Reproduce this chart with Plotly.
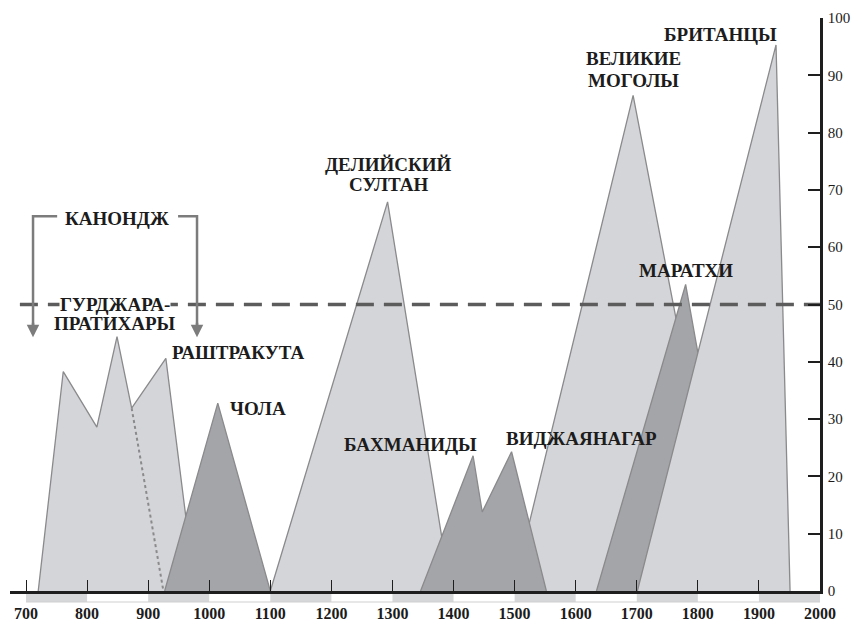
import plotly.graph_objects as go

# ---------------- data ----------------
x_tick_years = list(range(700, 2001, 100))
y_tick_values = list(range(0, 101, 10))

gurjara_x = [720, 761, 816, 849, 873, 929, 977]
gurjara_y = [0, 38.3, 28.6, 44.4, 31.9, 40.6, 0]
divider_x = [873, 925]
divider_y = [31.9, 0]
chola_x = [927, 1014, 1100]
chola_y = [0, 32.8, 0]
delhi_x = [1100, 1292, 1395]
delhi_y = [0, 67.9, 0]
mughal_x = [1497, 1694, 1850]
mughal_y = [0, 86.5, 0]
bahmani_x = [1346, 1432, 1447, 1495, 1552]
bahmani_y = [0, 23.6, 13.8, 24.3, 0]
maratha_x = [1634, 1780, 1870]
maratha_y = [0, 53.5, 0]
british_x = [1701, 1928, 1951]
british_y = [0, 95.3, 0]

threshold_value = 50
threshold_span = [690, 2000]

kanauj_left = 711.5
kanauj_right = 980
kanauj_top = 65.4
kanauj_tip = 44.3
kanauj_text_gap = [751, 949]

labels = [
    ("КАНОНДЖ", 849, 65.0),
    ("ГУРДЖАРА-", 845, 49.95),
    ("ПРАТИХАРЫ", 846, 46.6),
    ("РАШТРАКУТА", 1047, 41.7),
    ("ЧОЛА", 1080, 31.8),
    ("ДЕЛИЙСКИЙ", 1293, 74.5),
    ("СУЛТАН", 1294, 71.0),
    ("БАХМАНИДЫ", 1329, 25.6),
    ("ВИДЖАЯНАГАР", 1610, 26.6),
    ("ВЕЛИКИЕ", 1694, 92.9),
    ("МОГОЛЫ", 1694, 89.1),
    ("БРИТАНЦЫ", 1837, 97.2),
    ("МАРАТХИ", 1780, 55.9),
]

x_range = [673.8, 2000]

LIGHT = "#d4d5d8"
DARK = "#a4a5a9"
EDGE = "#8a8a8c"
TEXT = "#1c1c1c"
FONT = "Liberation Serif, Times New Roman, serif"

fig = go.Figure()


def region(xs, ys, fill):
    fig.add_trace(go.Scatter(
        x=xs, y=ys, mode="lines", fill="toself", fillcolor=fill,
        line=dict(color=EDGE, width=1.3), hoverinfo="skip", showlegend=False))


region(gurjara_x, gurjara_y, LIGHT)
fig.add_trace(go.Scatter(x=divider_x, y=divider_y, mode="lines",
                         line=dict(color=EDGE, width=2, dash="dot"),
                         hoverinfo="skip", showlegend=False))
region(chola_x, chola_y, DARK)
region(delhi_x, delhi_y, LIGHT)
region(mughal_x, mughal_y, LIGHT)
region(bahmani_x, bahmani_y, DARK)
region(maratha_x, maratha_y, DARK)
region(british_x, british_y, LIGHT)

# dashed 50 line
fig.add_trace(go.Scatter(x=threshold_span, y=[threshold_value] * 2, mode="lines",
                         line=dict(color="#5c5c5c", width=3.5, dash="18px,10px"),
                         hoverinfo="skip", showlegend=False))

# Kanauj bracket
BR = "#7c7c7c"
fig.add_trace(go.Scatter(
    x=[kanauj_text_gap[0], kanauj_left, kanauj_left],
    y=[kanauj_top, kanauj_top, kanauj_tip + 2],
    mode="lines", line=dict(color=BR, width=2.5), hoverinfo="skip", showlegend=False))
fig.add_trace(go.Scatter(
    x=[kanauj_text_gap[1], kanauj_right, kanauj_right],
    y=[kanauj_top, kanauj_top, kanauj_tip + 2],
    mode="lines", line=dict(color=BR, width=2.5), hoverinfo="skip", showlegend=False))

annotations = []
for xv in (kanauj_left, kanauj_right):
    annotations.append(dict(
        x=xv, y=kanauj_tip, xref="x", yref="y", ax=0, ay=-16,
        showarrow=True, arrowhead=2, arrowsize=1.0, arrowwidth=2.5,
        arrowcolor=BR, text=""))

for txt, xv, yv in labels:
    annotations.append(dict(
        x=xv, y=yv, xref="x", yref="y", text=txt, showarrow=False,
        font=dict(family=FONT, size=19, color=TEXT, weight="bold"),
        xanchor="center", yanchor="middle",
        bgcolor="rgba(255,255,255,0)" if not txt.startswith("ГУРДЖ") else "white",
        borderpad=0))

# alternating century strip under the baseline
shapes = []
for i, yr in enumerate(x_tick_years[:-1]):
    if i % 2 == 0:
        shapes.append(dict(type="rect", xref="x", yref="paper",
                           x0=yr, x1=yr + 100, y0=-11 / 573, y1=0,
                           fillcolor="#d6d7d9", line=dict(width=0), layer="below"))
shapes.append(dict(type="line", xref="x", yref="paper",
                   x0=x_tick_years[0], x1=x_tick_years[-1], y0=-11 / 573, y1=-11 / 573,
                   line=dict(color="#cfcfd1", width=1), layer="below"))

fig.update_layout(
    width=853, height=621,
    margin=dict(l=10, r=33, t=18, b=30, autoexpand=False),
    paper_bgcolor="white", plot_bgcolor="white",
    showlegend=False,
    annotations=annotations,
    shapes=shapes,
    font=dict(family=FONT, color=TEXT),
    xaxis=dict(
        range=x_range, showgrid=False, zeroline=False, automargin=False,
        showline=True, linecolor="#1e1e1e", linewidth=2.5,
        tickvals=x_tick_years, ticktext=[str(v) for v in x_tick_years],
        ticks="inside", ticklen=11, tickwidth=1.3, tickcolor="#1e1e1e",
        tickfont=dict(family=FONT, size=16, color=TEXT, weight="bold"),
        ticklabelstandoff=6,
    ),
    yaxis=dict(
        range=[0, 100], side="right", showgrid=False, zeroline=False, automargin=False,
        showline=True, linecolor="#1e1e1e", linewidth=2.5,
        tickvals=y_tick_values, ticktext=[str(v) for v in y_tick_values],
        ticks="inside", ticklen=12, tickwidth=1.5, tickcolor="#1e1e1e",
        tickfont=dict(family=FONT, size=15, color=TEXT),
        ticklabelstandoff=2,
    ),
)

page_fix = (
    "document.body.style.margin='0px';"
    "document.documentElement.style.overflow='hidden';"
    "document.body.style.overflow='hidden';"
    "var gd=document.getElementsByClassName('plotly-graph-div')[0];"
    "gd.style.position='fixed';gd.style.left='0px';gd.style.top='0px';"
)

fig.write_html("out.html", config={"displayModeBar": False}, post_script=page_fix)
